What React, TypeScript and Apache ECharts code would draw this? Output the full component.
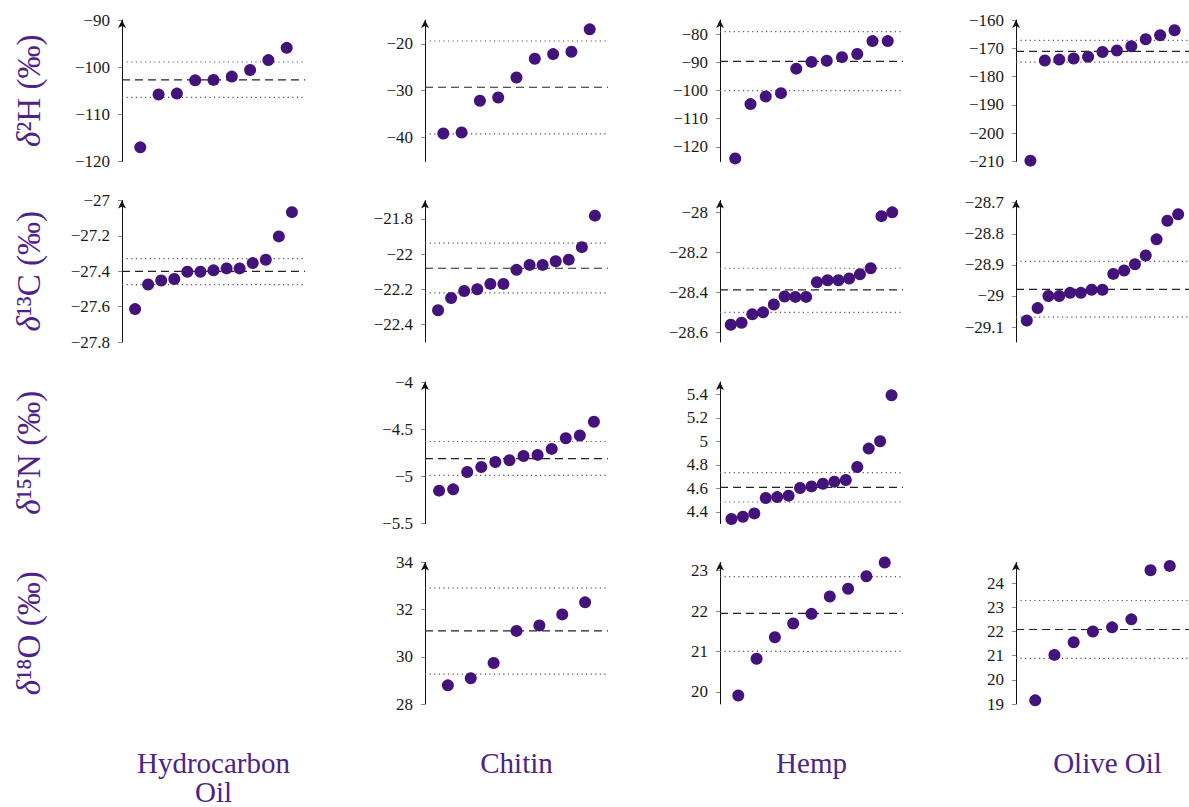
import React, { useEffect, useRef } from 'react';
import * as echarts from 'echarts';

// ---------- labels ----------
const columnLabels = ['Hydrocarbon\nOil', 'Chitin', 'Hemp', 'Olive Oil'];
const rowIsotopes = ['²H', '¹³C', '¹⁵N', '¹⁸O'];

// ---------- data (sorted sample values) ----------
// δ2H
const hydroH = [-117.0, -105.8, -105.6, -102.8, -102.7, -102.0, -100.6, -98.5, -95.9];
const hydroHLines = [-102.7, -98.9, -106.4]; // median, upper, lower
const hydroHTicks = [-120, -110, -100, -90];
const hydroHRange = [-120, -90];

const chitinH = [-39.2, -39.0, -32.2, -31.5, -27.2, -23.2, -22.2, -21.7, -16.9];
const chitinHLines = [-29.3, -19.4, -39.3];
const chitinHTicks = [-40, -30, -20];
const chitinHRange = [-45.2, -14.9];

const hempH = [-124.1, -104.8, -102.1, -100.9, -92.2, -89.8, -89.4, -88.1, -87.0, -82.4, -82.4];
const hempHLines = [-89.6, -79.0, -100.0];
const hempHTicks = [-120, -110, -100, -90, -80];
const hempHRange = [-125.2, -74.9];

const oliveH = [-209.7, -174.3, -174.0, -173.6, -173.0, -171.3, -170.8, -169.3, -166.8, -165.4, -163.6];
const oliveHLines = [-171.1, -167.2, -174.9];
const oliveHTicks = [-210, -200, -190, -180, -170, -160];
const oliveHRange = [-210, -160];

// δ13C
const hydroC = [-27.614, -27.475, -27.452, -27.444, -27.403, -27.403, -27.395, -27.384, -27.384, -27.354, -27.335, -27.203, -27.066];
const hydroCLines = [-27.401, -27.329, -27.476];
const hydroCTicks = [-27.8, -27.6, -27.4, -27.2, -27];
const hydroCRange = [-27.8, -27.0];

const chitinC = [-22.32, -22.25, -22.21, -22.2, -22.17, -22.17, -22.09, -22.062, -22.062, -22.041, -22.032, -21.961, -21.782];
const chitinCLines = [-22.081, -21.938, -22.221];
const chitinCTicks = [-22.4, -22.2, -22, -21.8];
const chitinCRange = [-22.5, -21.696];

const hempC = [-28.562, -28.552, -28.51, -28.5, -28.461, -28.421, -28.423, -28.423, -28.35, -28.34, -28.34, -28.331, -28.31, -28.28, -28.02, -28.001];
const hempCLines = [-28.388, -28.28, -28.5];
const hempCTicks = [-28.6, -28.4, -28.2, -28];
const hempCRange = [-28.648, -27.942];

const oliveC = [-29.079, -29.039, -29.0, -29.0, -28.99, -28.99, -28.98, -28.98, -28.929, -28.918, -28.898, -28.87, -28.818, -28.758, -28.737];
const oliveCLines = [-28.979, -28.889, -29.068];
const oliveCTicks = [-29.1, -29, -28.9, -28.8, -28.7];
const oliveCRange = [-29.148, -28.693];

// δ15N
const chitinN = [-5.152, -5.138, -4.954, -4.901, -4.848, -4.83, -4.784, -4.773, -4.709, -4.596, -4.567, -4.422];
const chitinNLines = [-4.812, -4.631, -4.989];
const chitinNTicks = [-5.5, -5, -4.5, -4];
const chitinNRange = [-5.5, -4.0];

const hempN = [4.338, 4.358, 4.386, 4.517, 4.525, 4.537, 4.602, 4.616, 4.639, 4.656, 4.67, 4.781, 4.938, 5.0, 5.392];
const hempNLines = [4.608, 4.733, 4.483];
const hempNTicks = [4.4, 4.6, 4.8, 5, 5.2, 5.4];
const hempNRange = [4.3, 5.505];

// δ18O
const chitinO = [28.79, 29.09, 29.74, 31.1, 31.33, 31.8, 32.31];
const chitinOLines = [31.1, 32.91, 29.27];
const chitinOTicks = [28, 30, 32, 34];
const chitinORange = [28, 34];

const hempO = [19.91, 20.82, 21.35, 21.69, 21.93, 22.36, 22.55, 22.86, 23.2];
const hempOLines = [21.94, 22.85, 21.0];
const hempOTicks = [20, 21, 22, 23];
const hempORange = [19.7, 23.2];

const oliveO = [19.15, 21.03, 21.55, 22.0, 22.17, 22.5, 24.53, 24.71];
const oliveOLines = [22.08, 23.28, 20.89];
const oliveOTicks = [19, 20, 21, 22, 23, 24];
const oliveORange = [19, 24.85];

// panel table: [row, col, values, lines, ticks, range]
const panels: [number, number, number[], number[], number[], number[]][] = [
  [0, 0, hydroH, hydroHLines, hydroHTicks, hydroHRange],
  [0, 1, chitinH, chitinHLines, chitinHTicks, chitinHRange],
  [0, 2, hempH, hempHLines, hempHTicks, hempHRange],
  [0, 3, oliveH, oliveHLines, oliveHTicks, oliveHRange],
  [1, 0, hydroC, hydroCLines, hydroCTicks, hydroCRange],
  [1, 1, chitinC, chitinCLines, chitinCTicks, chitinCRange],
  [1, 2, hempC, hempCLines, hempCTicks, hempCRange],
  [1, 3, oliveC, oliveCLines, oliveCTicks, oliveCRange],
  [2, 1, chitinN, chitinNLines, chitinNTicks, chitinNRange],
  [2, 2, hempN, hempNLines, hempNTicks, hempNRange],
  [3, 1, chitinO, chitinOLines, chitinOTicks, chitinORange],
  [3, 2, hempO, hempOLines, hempOTicks, hempORange],
  [3, 3, oliveO, oliveOLines, oliveOTicks, oliveORange],
];

// ---------- layout / style ----------
const COL_LEFT = [122, 425, 720, 1016];
const ROW_TOP = [20, 200.5, 382, 562.5];
const PLOT_W = 183;
const PLOT_H = 141.5;
const PURPLE = '#43127a';
const LABEL_PURPLE = '#4e2389';
const SERIF = 'Liberation Serif';

function buildOption() {
  const grid: any[] = [];
  const xAxis: any[] = [];
  const yAxis: any[] = [];
  const series: any[] = [];

  panels.forEach(([row, col, values, lines, ticks, range], i) => {
    const n = values.length;
    grid.push({ left: COL_LEFT[col], top: ROW_TOP[row], width: PLOT_W, height: PLOT_H });
    xAxis.push({ gridIndex: i, type: 'value', min: 0, max: n + 1, show: false });
    yAxis.push({
      gridIndex: i,
      type: 'value',
      min: range[0],
      max: range[1],
      splitLine: { show: false },
      axisLine: {
        show: true,
        onZero: false,
        symbol: ['none', 'arrow'],
        symbolSize: [6, 8],
        lineStyle: { color: '#111', width: 1 },
      },
      axisTick: { show: true, customValues: ticks, length: 4, lineStyle: { color: '#888', width: 1 } },
      axisLabel: {
        customValues: ticks,
        formatter: (v: number) => String(v).replace('-', '\u2212'),
        margin: 12,
        fontFamily: SERIF,
        fontSize: 17,
        color: '#1a1a1a',
      },
    });
    const styles = [
      { color: '#222', width: 1.2, type: [8, 5] },
      { color: '#555', width: 1.2, type: [1.2, 3.4] },
      { color: '#555', width: 1.2, type: [1.2, 3.4] },
    ];
    lines.forEach((v, k) => {
      series.push({
        type: 'line',
        xAxisIndex: i,
        yAxisIndex: i,
        data: [[0, v], [n + 1, v]],
        symbol: 'none',
        silent: true,
        lineStyle: styles[k],
        z: 1,
      });
    });
    series.push({
      type: 'scatter',
      xAxisIndex: i,
      yAxisIndex: i,
      data: values.map((v, j) => [j + 1, v]),
      symbolSize: 12,
      clip: false,
      itemStyle: { color: PURPLE, opacity: 1 },
      z: 3,
    });
  });

  const graphic: any[] = [];
  rowIsotopes.forEach((iso, r) => {
    graphic.push({
      type: 'text',
      x: 29,
      y: ROW_TOP[r] + PLOT_H / 2,
      rotation: Math.PI / 2,
      style: {
        text: '{d|δ}' + iso + ' (‰)',
        fill: LABEL_PURPLE,
        fontFamily: SERIF,
        fontSize: 33,
        textAlign: 'center',
        textVerticalAlign: 'middle',
        rich: { d: { fontStyle: 'italic', fontFamily: SERIF, fontSize: 33, fill: LABEL_PURPLE } },
      },
    });
  });
  columnLabels.forEach((lab, c) => {
    graphic.push({
      type: 'text',
      x: COL_LEFT[c] + PLOT_W / 2,
      y: 748,
      style: {
        text: lab,
        fill: LABEL_PURPLE,
        fontFamily: SERIF,
        fontSize: 29,
        lineHeight: 29,
        textAlign: 'center',
        textVerticalAlign: 'top',
      },
    });
  });

  return { animation: false, backgroundColor: '#ffffff', grid, xAxis, yAxis, series, graphic };
}

export default function App() {
  const ref = useRef<HTMLDivElement>(null);
  useEffect(() => {
    if (!ref.current) return;
    const chart = echarts.init(ref.current, undefined, { renderer: 'svg' });
    chart.setOption(buildOption() as any);
    return () => chart.dispose();
  }, []);
  return (
    <div
      ref={ref}
      style={{ position: 'absolute', left: 0, top: 0, width: 1189, height: 807, background: '#fff' }}
    />
  );
}
